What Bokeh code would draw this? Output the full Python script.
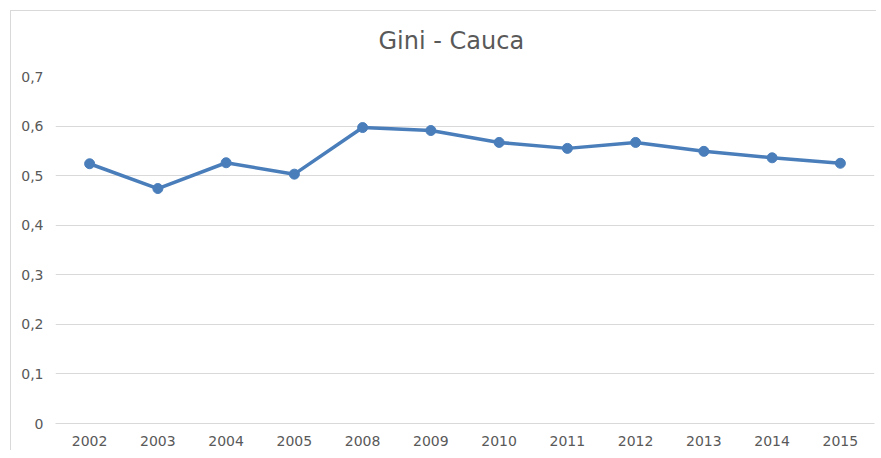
from bokeh.plotting import figure
from bokeh.models import FixedTicker, CustomJSTickFormatter, ColumnDataSource
from bokeh.embed import file_html
from bokeh.resources import INLINE

years = ["2002", "2003", "2004", "2005", "2008", "2009", "2010", "2011", "2012", "2013", "2014", "2015"]
gini = [0.524, 0.474, 0.526, 0.503, 0.597, 0.591, 0.567, 0.555, 0.567, 0.549, 0.536, 0.525]
y_ticks = [0, 0.1, 0.2, 0.3, 0.4, 0.5, 0.6, 0.7]

src = ColumnDataSource(dict(year=years, gini=gini))

p = figure(x_range=years, y_range=(0, 0.7), width=876, height=450,
           output_backend="svg", toolbar_location=None,
           min_border_left=55, min_border_right=2, min_border_top=76, min_border_bottom=27)
p.styles = {"background": "linear-gradient(#d9d9d9,#d9d9d9) 10px 10px / calc(100% - 10px) 1px no-repeat, "
                          "linear-gradient(#d9d9d9,#d9d9d9) 10px 10px / 1px calc(100% - 10px) no-repeat, white"}

p.title.text = "Gini - Cauca"
p.title.align = "left"
p.title.offset = 323
p.title.text_font = "DejaVu Sans"
p.title.text_font_size = "24px"
p.title.text_font_style = "normal"
p.title.text_color = "#595959"
p.title.standoff = 44
p.title.vertical_align = "bottom"

p.outline_line_color = None
p.background_fill_color = "white"
p.border_fill_color = None

p.xgrid.grid_line_color = None
p.ygrid.grid_line_color = "#d9d9d9"
p.ygrid.grid_line_width = 1

p.yaxis.ticker = FixedTicker(ticks=y_ticks)
p.yaxis.formatter = CustomJSTickFormatter(code="return tick === 0 ? '0' : tick.toFixed(1).replace('.', ',');")
p.yaxis.axis_line_color = None
p.yaxis.major_tick_line_color = None
p.yaxis.minor_tick_line_color = None
p.yaxis.major_tick_out = 0
p.yaxis.major_label_text_font = "DejaVu Sans"
p.yaxis.major_label_text_font_size = "14px"
p.yaxis.major_label_text_color = "#595959"
p.yaxis.major_label_standoff = 12

p.xaxis.axis_line_color = "#d9d9d9"
p.xaxis.major_tick_line_color = None
p.xaxis.minor_tick_line_color = None
p.xaxis.major_tick_out = 0
p.xaxis.major_label_text_font = "DejaVu Sans"
p.xaxis.major_label_text_font_size = "14px"
p.xaxis.major_label_text_color = "#595959"
p.xaxis.major_label_standoff = 12

p.line("year", "gini", source=src, line_color="#4a7ebb", line_width=3.5)
p.scatter("year", "gini", source=src, size=10, fill_color="#4a7ebb", line_color="#4a7ebb")

open("out.html", "w").write(file_html(p, INLINE))
